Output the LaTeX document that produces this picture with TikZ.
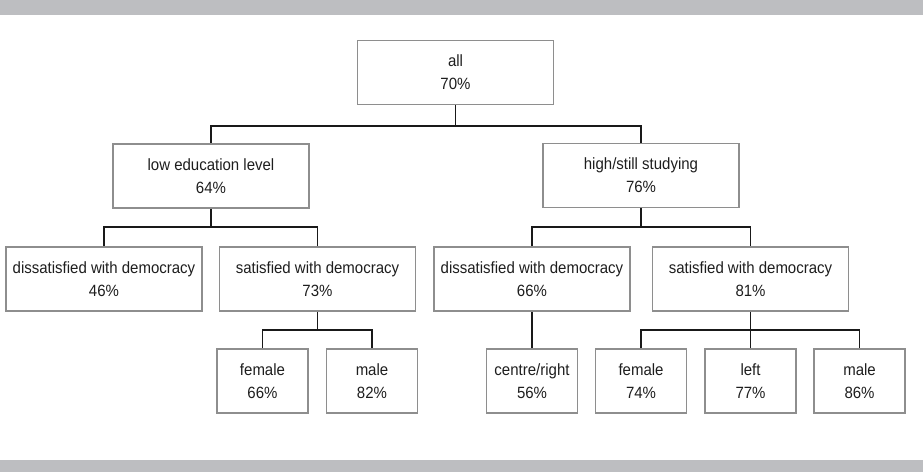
\documentclass[tikz,border=0pt]{standalone}
\usepackage{fontspec}
\setmainfont{Liberation Sans}[FakeStretch=0.92]
\usetikzlibrary{calc}
\definecolor{bargray}{HTML}{BDBEC1}
\definecolor{boxgray}{HTML}{8E8E8E}
\definecolor{txt}{HTML}{1E1E1E}
\tikzset{
  box/.style={draw=boxgray, line width=1.6pt, fill=white, minimum width=196pt, minimum height=64pt,
    inner sep=0pt, align=center, text=txt, font=\fontsize{16.3}{23}\selectfont},
  sbox/.style={box, minimum width=91pt},
  conn/.style={draw=black!90, line width=1.6pt}
}
\begin{document}
\begin{tikzpicture}[x=1pt,y=-1pt]
\useasboundingbox (0,0) rectangle (923,472);
\fill[bargray] (0,0) rectangle (923,15);
\fill[bargray] (0,460) rectangle (923,472);

\node[box] (all) at (455.5,72.5) {all\\70\%};
\node[box] (low) at (211,176) {low education level\\64\%};
\node[box] (high) at (641,175.5) {high/still studying\\76\%};
\node[box] (dis1) at (104,279) {dissatisfied with democracy\\46\%};
\node[box] (sat1) at (317.5,279) {satisfied with democracy\\73\%};
\node[box] (dis2) at (532,279) {dissatisfied with democracy\\66\%};
\node[box] (sat2) at (750.5,279) {satisfied with democracy\\81\%};
\node[sbox] (fem1) at (262.5,381) {female\\66\%};
\node[sbox] (male1) at (372,381) {male\\82\%};
\node[sbox] (cr) at (532,381) {centre/right\\56\%};
\node[sbox] (fem2) at (641,381) {female\\74\%};
\node[sbox] (left) at (750.5,381) {left\\77\%};
\node[sbox] (male2) at (859.5,381) {male\\86\%};

\draw[conn] (all.south) -- (all.south |- 0,126);
\draw[conn] (low.north) |- (all.south |- 0,126) -| (high.north);

\draw[conn] (low.south) -- (low.south |- 0,227);
\draw[conn] (dis1.north) |- (low.south |- 0,227) -| (sat1.north);

\draw[conn] (high.south) -- (high.south |- 0,227);
\draw[conn] (dis2.north) |- (high.south |- 0,227) -| (sat2.north);

\draw[conn] (sat1.south) -- (sat1.south |- 0,330);
\draw[conn] (fem1.north) |- (sat1.south |- 0,330) -| (male1.north);

\draw[conn] (dis2.south) -- (cr.north);

\draw[conn] (sat2.south) -- (left.north);
\draw[conn] (fem2.north) |- (sat2.south |- 0,330) -| (male2.north);
\end{tikzpicture}
\end{document}
